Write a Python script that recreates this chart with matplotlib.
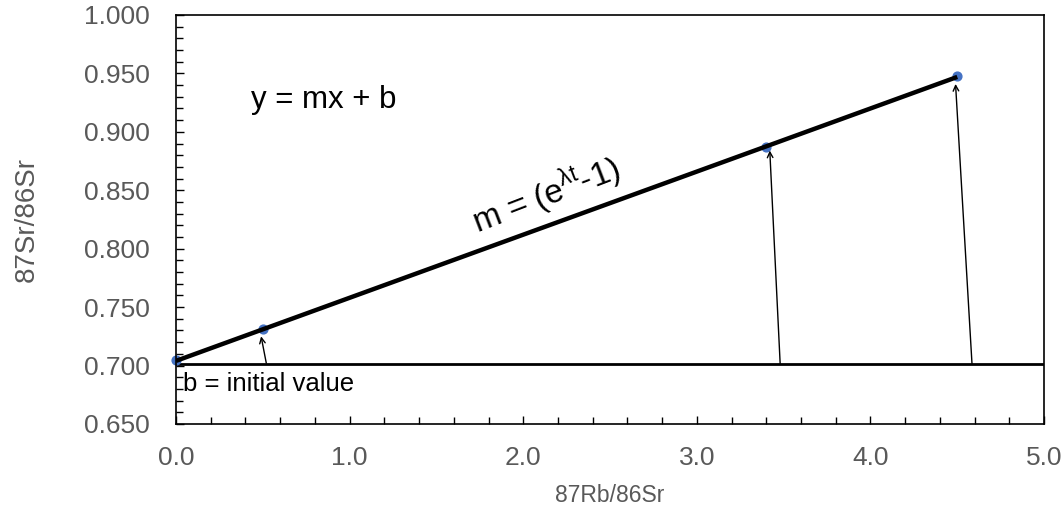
import matplotlib
matplotlib.use("Agg")
import matplotlib.pyplot as plt
from matplotlib.ticker import MultipleLocator

plt.rcParams['font.family'] = ['Liberation Sans', 'DejaVu Sans']

# sample points
rb_sr = [0.0, 0.5, 3.4, 4.5]
sr_sr = [0.705, 0.731, 0.887, 0.948]

# isochron line end points
line_x = [0.0, 4.5]
line_y = [0.704, 0.947]

# initial value line
b_x = [0.0, 5.0]
b_y = [0.701, 0.701]

# arrows (from horizontal line up to the points)
arrow_from = [(0.52, 0.702), (3.48, 0.701), (4.585, 0.701)]
arrow_to = [(0.49, 0.725), (3.42, 0.884), (4.49, 0.941)]

grey = '#595959'

fig = plt.figure(figsize=(10.63, 5.08), dpi=100)
ax = fig.add_axes([0.1656, 0.1654, 0.8166, 0.8051])

ax.plot(b_x, b_y, color='black', lw=2, zorder=2)
ax.plot(line_x, line_y, color='black', lw=3.2, zorder=3, solid_capstyle='butt')
ax.scatter(rb_sr, sr_sr, s=40, color='#4472C4', zorder=2, clip_on=False)

for (x0, y0), (x1, y1) in zip(arrow_from, arrow_to):
    ax.annotate('', xy=(x1, y1), xytext=(x0, y0),
                arrowprops=dict(arrowstyle='->', color='black', lw=1,
                                shrinkA=0, shrinkB=0, mutation_scale=10))

ax.text(0.43, 0.927, 'y = mx + b', fontsize=22.5, va='center', ha='left')
ax.text(0.04, 0.684, 'b = initial value', fontsize=18.5, va='center', ha='left')
ax.text(2.13, 0.846, r'm = (e$^{\mathregular{\lambda t}}$-1)', fontsize=24,
        va='center', ha='center', rotation=21, rotation_mode='anchor')

ax.set_xlim(0, 5)
ax.set_ylim(0.65, 1.0)
ax.xaxis.set_major_locator(MultipleLocator(1.0))
ax.xaxis.set_minor_locator(MultipleLocator(0.2))
ax.yaxis.set_major_locator(MultipleLocator(0.05))
ax.yaxis.set_minor_locator(MultipleLocator(0.01))
ax.xaxis.set_major_formatter(plt.FormatStrFormatter('%.1f'))
ax.yaxis.set_major_formatter(plt.FormatStrFormatter('%.3f'))

ax.tick_params(which='both', direction='in', colors='black', labelcolor=grey,
               labelsize=19, width=1)
ax.tick_params(which='major', length=6)
ax.tick_params(which='minor', length=5)
ax.tick_params(axis='x', pad=16)
ax.tick_params(axis='y', pad=19)

for s in ax.spines.values():
    s.set_linewidth(1.2)
    s.set_color('black')

ax.set_xlabel('87Rb/86Sr', fontsize=16.5, color=grey, labelpad=10)
ax.set_ylabel('87Sr/86Sr', fontsize=20, color=grey, labelpad=32)

fig.savefig('out.png', dpi=100)
